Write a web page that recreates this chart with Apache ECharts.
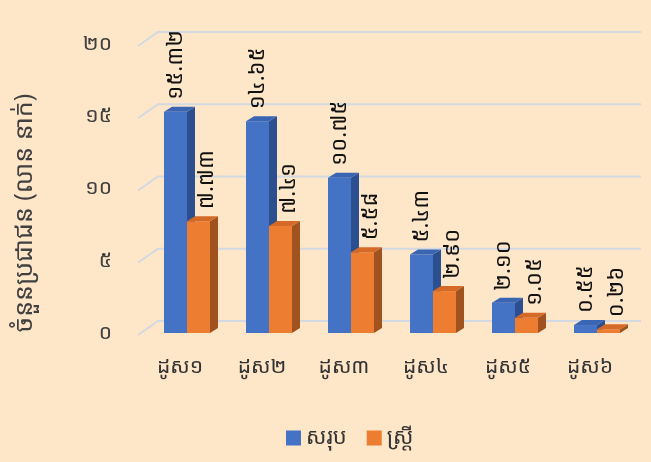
<!DOCTYPE html>
<html><head><meta charset="utf-8">
<script src="https://cdn.jsdelivr.net/npm/echarts@6/dist/echarts.min.js"></script>
<style>html,body{margin:0;padding:0;background:#FEE6C8;}#c{width:651px;height:462px;}</style>
</head><body><div id="c"></div>
<script>
var categories = ['ដូស១','ដូស២','ដូស៣','ដូស៤','ដូស៥','ដូស៦'];
var totalValues = [15.32, 14.65, 10.75, 5.43, 2.10, 0.55];
var femaleValues = [7.73, 7.41, 5.58, 2.90, 1.05, 0.26];
var yTicks = [0, 5, 10, 15, 20];
var seriesNames = ['សរុប', 'ស្ត្រី'];
var yTitle = 'ចំនួនប្រជាជន (លាន នាក់)';

var FONT = "'Noto Sans Khmer','Khmer OS','Khmer OS System','Noto Sans',sans-serif";
var KD = ['០','១','២','៣','៤','៥','៦','៧','៨','៩'];
function kh(s){ return String(s).replace(/[0-9]/g, function(d){ return KD[+d]; }); }

var palettes = [
  {front:'#4472C4', side:'#2C4F8F', top:'#3A65B3'},
  {front:'#ED7D31', side:'#A0531F', top:'#D46A26'}
];

function makeBar(idx){
  var pal = palettes[idx];
  return function(params, api){
    var c = api.coord([api.value(0), api.value(1)]);
    var b = api.coord([api.value(0), 0]);
    var w = 23, dx = 8, dy = -5;
    var x0 = c[0] - 16 + idx * w;
    var top = c[1], bot = b[1];
    var labelX = x0 + w/2 + (idx ? 8 : 0);
    return {type:'group', children:[
      {type:'polygon', shape:{points:[[x0+w,top],[x0+w+dx,top+dy],[x0+w+dx,bot+dy],[x0+w,bot]]}, style:{fill:pal.side}},
      {type:'rect', shape:{x:x0, y:top, width:w, height:bot-top}, style:{fill:pal.front}},
      {type:'polygon', shape:{points:[[x0,top],[x0+dx,top+dy],[x0+w+dx,top+dy],[x0+w,top]]}, style:{fill:pal.top}},
      {type:'text', x:labelX, y:top-12, rotation:Math.PI/2,
        style:{text:kh(api.value(1).toFixed(2)), x:0, y:0, align:'left', verticalAlign:'middle', fill:'#111', font:'22px '+FONT}}
    ]};
  };
}

function gridRender(params, api){
  var y = api.coord([0, api.value(1)])[1];
  var cs = params.coordSys;
  return {type:'polyline', shape:{points:[[cs.x-1, y+2],[cs.x+19, y-12],[cs.x+cs.width+10, y-12]]},
    style:{stroke:'#D2D9E2', lineWidth:2, fill:null}};
}

var chart = echarts.init(document.getElementById('c'));
chart.setOption({
  backgroundColor:'#FEE6C8',
  animation:false,
  grid:{left:139, right:20, top:44, bottom:129},
  legend:{data:seriesNames, bottom:8, left:281, icon:'rect', itemWidth:15, itemHeight:15, itemGap:20,
    textStyle:{fontSize:22, color:'#333', fontFamily:FONT}},
  xAxis:{type:'category', data:categories, axisLine:{show:false}, axisTick:{show:false},
    axisLabel:{margin:24, fontSize:21, color:'#333', fontFamily:FONT}},
  yAxis:{type:'value', min:0, max:20, interval:5, splitLine:{show:false}, axisLine:{show:false}, axisTick:{show:false},
    axisLabel:{margin:27, fontSize:21, color:'#404040', fontFamily:FONT, formatter:function(v){return kh(v);}}},
  graphic:[{type:'text', x:25, y:213, rotation:Math.PI/2,
    style:{text:yTitle, x:0, y:0, align:'center', verticalAlign:'middle', fill:'#404040', font:'25px '+FONT}}],
  series:[
    {type:'custom', name:'grid', renderItem:gridRender, data:yTicks.map(function(v){return [0,v];}), z:1, silent:true},
    {type:'custom', name:seriesNames[0], renderItem:makeBar(0), itemStyle:{color:palettes[0].front},
      data:totalValues.map(function(v,i){return [i,v];}), z:2},
    {type:'custom', name:seriesNames[1], renderItem:makeBar(1), itemStyle:{color:palettes[1].front},
      data:femaleValues.map(function(v,i){return [i,v];}), z:3}
  ]
});
</script></body></html>
